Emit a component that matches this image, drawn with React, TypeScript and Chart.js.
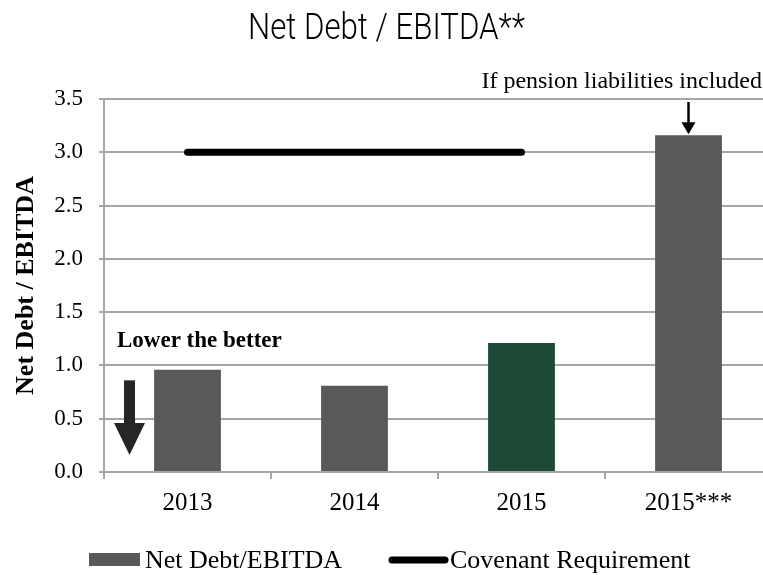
import React, { useEffect, useRef } from "react";
import { Chart, registerables } from "chart.js";

Chart.register(...registerables);

// ---- data ----
const categories = ["2013", "2014", "2015", "2015***"];
const netDebtEbitda = [0.96, 0.81, 1.21, 3.16];
const covenantRequirement = [3.0, 3.0, 3.0, null];
const barColors = ["#595959", "#595959", "#1c4a36", "#595959"];
const yMin = 0;
const yMax = 3.5;
const yStep = 0.5;

const chartTitle = "Net Debt / EBITDA**";
const yAxisTitle = "Net Debt / EBITDA";
const seriesNames = ["Net Debt/EBITDA", "Covenant Requirement"];
const pensionNote = "If pension liabilities included";
const lowerNote = "Lower the better";
// annotation anchors (in data units)
const lowerNoteValue = 1.17;
const lowerArrowTop = 0.86;
const lowerArrowHead = 0.46;
const lowerArrowTip = 0.16;

const SERIF = "'Liberation Serif', 'Times New Roman', serif";
const TITLE_FONT = "Roboto, 'Liberation Sans', sans-serif";

const overlay = {
  id: "overlay",
  afterDraw(chart: any) {
    const { ctx, chartArea, scales } = chart;
    const xs = scales.x;
    const ys = scales.y;
    ctx.save();

    // title (condensed by horizontal scaling to the reference width)
    ctx.fillStyle = "#000";
    ctx.font = `300 36px ${TITLE_FONT}`;
    ctx.textAlign = "center";
    ctx.textBaseline = "alphabetic";
    const tw = ctx.measureText(chartTitle).width;
    const sx = 277 / tw;
    ctx.save();
    ctx.translate(386.5, 39);
    ctx.scale(sx, 1);
    ctx.fillText(chartTitle, 0, 0);
    ctx.restore();

    // pension note
    ctx.font = `24px ${SERIF}`;
    ctx.textAlign = "right";
    ctx.fillText(pensionNote, 762, 88);

    // pension arrow
    const px = xs.getPixelForValue(3);
    const topY = ys.getPixelForValue(yMax) + 3;
    const barTop = ys.getPixelForValue(netDebtEbitda[3]) - 1;
    ctx.strokeStyle = "#000";
    ctx.lineWidth = 2.5;
    ctx.beginPath();
    ctx.moveTo(px, topY);
    ctx.lineTo(px, barTop - 10);
    ctx.stroke();
    ctx.beginPath();
    ctx.moveTo(px - 7, barTop - 12);
    ctx.lineTo(px + 7, barTop - 12);
    ctx.lineTo(px, barTop);
    ctx.closePath();
    ctx.fill();

    // lower the better
    ctx.font = `bold 23px ${SERIF}`;
    ctx.textAlign = "left";
    ctx.fillText(lowerNote, chartArea.left + 13, ys.getPixelForValue(lowerNoteValue));

    // big down arrow
    const ax = chartArea.left + 25.5;
    const a1 = ys.getPixelForValue(lowerArrowTop);
    const a2 = ys.getPixelForValue(lowerArrowHead);
    const a3 = ys.getPixelForValue(lowerArrowTip);
    ctx.fillStyle = "#262626";
    ctx.fillRect(ax - 5.5, a1, 11, a2 - a1 + 1);
    ctx.beginPath();
    ctx.moveTo(ax - 15.5, a2);
    ctx.lineTo(ax + 15.5, a2);
    ctx.lineTo(ax, a3);
    ctx.closePath();
    ctx.fill();

    // legend
    ctx.fillStyle = barColors[0];
    ctx.fillRect(89, 553, 51, 13);
    ctx.fillStyle = "#000";
    ctx.font = `26px ${SERIF}`;
    ctx.textAlign = "left";
    ctx.fillText(seriesNames[0], 145, 568);
    ctx.strokeStyle = "#000";
    ctx.lineWidth = 7;
    ctx.lineCap = "round";
    ctx.beginPath();
    ctx.moveTo(392, 560);
    ctx.lineTo(445, 560);
    ctx.stroke();
    ctx.fillText(seriesNames[1], 450, 568);

    ctx.restore();
  },
};

export default function App() {
  const ref = useRef<HTMLCanvasElement>(null);
  useEffect(() => {
    if (!ref.current) return;
    const chart = new Chart(ref.current, {
      type: "bar",
      data: {
        labels: categories,
        datasets: [
          {
            type: "line",
            label: seriesNames[1],
            data: covenantRequirement,
            borderColor: "#000",
            backgroundColor: "#000",
            borderWidth: 7,
            borderCapStyle: "round",
            pointRadius: 0,
            fill: false,
            order: 0,
          } as any,
          {
            type: "bar",
            label: seriesNames[0],
            data: netDebtEbitda,
            backgroundColor: barColors,
            borderWidth: 0,
            barPercentage: 0.4,
            categoryPercentage: 1,
            order: 1,
          },
        ],
      },
      options: {
        responsive: false,
        animation: false,
        layout: { padding: { top: 99, right: 8, bottom: 53, left: 0 } },
        plugins: {
          legend: { display: false },
          title: { display: false },
          tooltip: { enabled: false },
        },
        scales: {
          x: {
            grid: {
              offset: true,
              drawOnChartArea: false,
              drawTicks: true,
              tickLength: 7,
              color: "#a6a6a6",
              lineWidth: 2,
            },
            border: { color: "#a6a6a6", width: 2 },
            ticks: {
              color: "#000",
              font: { family: SERIF, size: 25 },
              padding: 9,
              maxRotation: 0,
              autoSkip: false,
            },
            afterFit: (s: any) => {
              s.height = 50;
            },
          },
          y: {
            min: yMin,
            max: yMax,
            ticks: {
              stepSize: yStep,
              callback: (v: any) => Number(v).toFixed(1),
              color: "#000",
              font: { family: SERIF, size: 23 },
              padding: 16,
            },
            grid: { color: "#a6a6a6", lineWidth: 2, tickLength: 5 },
            border: { color: "#a6a6a6", width: 2 },
            title: {
              display: true,
              text: yAxisTitle,
              color: "#000",
              font: { family: SERIF, size: 26, weight: "bold" },
              padding: { top: 11, bottom: 0 },
            },
            afterFit: (s: any) => {
              s.width = 104;
            },
          },
        },
      } as any,
      plugins: [overlay],
    });
    return () => chart.destroy();
  }, []);
  return (
    <div
      style={{
        position: "absolute",
        left: 0,
        top: 0,
        width: 763,
        height: 575,
        overflow: "hidden",
        background: "#fff",
      }}
    >
      <canvas ref={ref} width={780} height={575} style={{ display: "block" }} />
    </div>
  );
}
